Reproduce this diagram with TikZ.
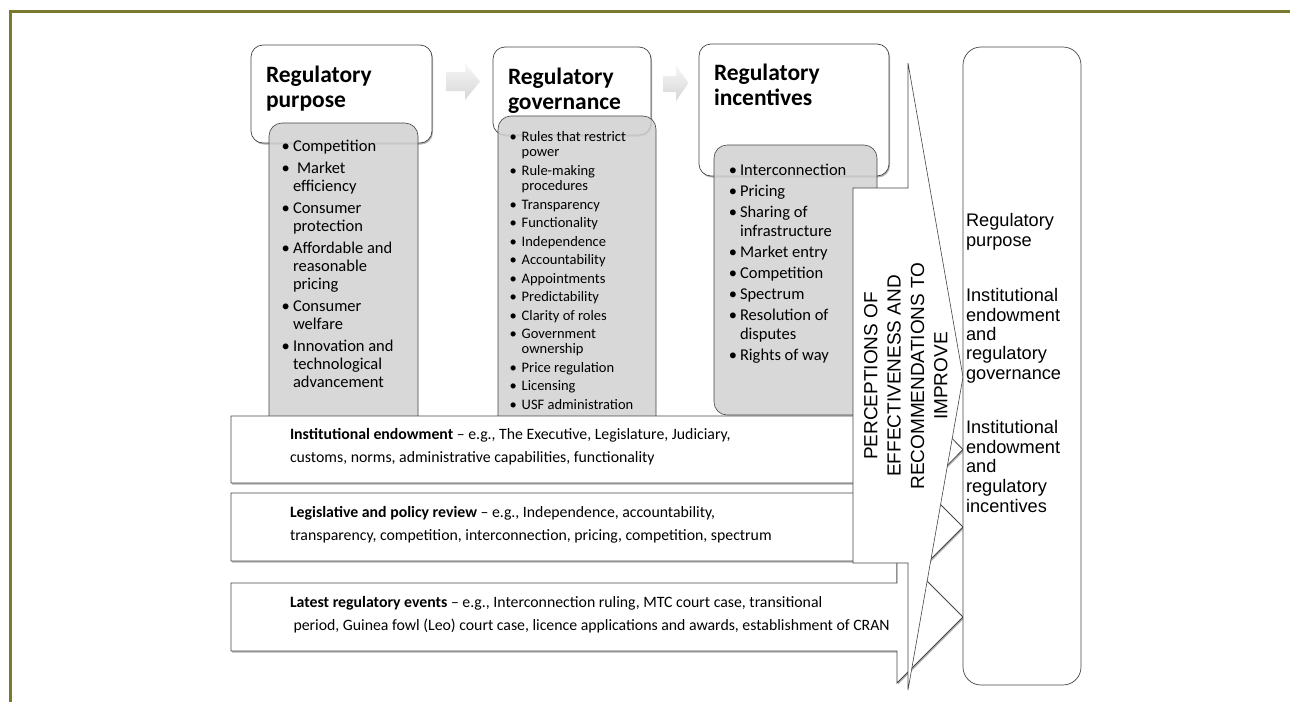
\documentclass[tikz,border=0pt]{standalone}
\usepackage{fontspec}
\setmainfont{Carlito}
\newfontfamily\arialfont{Liberation Sans}
\usetikzlibrary{shadows}

\definecolor{frameolive}{RGB}{122,122,46}
\definecolor{edgegray}{RGB}{68,68,68}
\definecolor{listfill}{RGB}{209,209,209}

\begin{document}
\begin{tikzpicture}[x=1pt, y=-1pt,
  every node/.style={inner sep=0pt, outer sep=0pt},
  softshadow/.style={drop shadow={shadow xshift=1pt, shadow yshift=-1.5pt, opacity=0.3, fill=black}},
  stagebox/.style={draw=edgegray, line width=0.7pt, fill=white, rounded corners=12pt, anchor=north west, softshadow},
  listbox/.style={draw=edgegray, line width=0.6pt, fill=listfill, fill opacity=0.85, rounded corners=13pt, anchor=north west},
  flowarrow/.style={draw=edgegray, line width=0.8pt, fill=white, line join=miter, softshadow},
  bigarrow/.style={draw=edgegray, line width=0.6pt, fill=white, line join=miter},
  steparrow/.style={draw=none, top color=gray!6, bottom color=gray!32},
  panelbox/.style={draw=edgegray, line width=0.7pt, fill=white, rounded corners=18pt, anchor=north west},
  stagetitle/.style={font=\fontsize{23.5}{25}\selectfont\bfseries, anchor=base west},
  itemA/.style={font=\fontsize{16.5}{18}\selectfont, anchor=base west},
  itemB/.style={font=\fontsize{14.5}{15}\selectfont, anchor=base west},
  dotA/.style={font=\fontsize{16.5}{18}\selectfont, anchor=base},
  dotB/.style={font=\fontsize{14.5}{15}\selectfont, anchor=base},
  flowtext/.style={font=\fontsize{15.8}{18}\selectfont, anchor=base west},
  paneltext/.style={font=\arialfont\fontsize{18.2}{19.5}\selectfont, anchor=base west},
  bigtext/.style={font=\arialfont\fontsize{19}{23.3}\selectfont, align=center, rotate=90},
]
\useasboundingbox (0,0) rectangle (1290,702);

% frame
\draw[frameolive, line width=3pt, line join=miter] (10,702) -- (10,11.3) -- (1290,11.3);

% stage boxes
\node[stagebox, minimum width=181pt, minimum height=98pt] (purposebox) at (251,45) {};
\node[stagebox, minimum width=158pt, minimum height=88pt] (governbox) at (493,47) {};
\node[stagebox, minimum width=190pt, minimum height=132pt] (incentbox) at (699,44) {};

% step arrows between stages
\path[steparrow] (446,72) -- (465,72) -- (465,63) -- (480,81.5) -- (465,100) -- (465,91) -- (446,91) -- cycle;
\path[steparrow] (663,76) -- (676,76) -- (676,65) -- (688.5,83) -- (676,101) -- (676,92) -- (663,92) -- cycle;

% stage titles
\node[stagetitle] (purposeA) at (266,82) {Regulatory};
\node[stagetitle] (purposeB) at (266,107) {purpose};
\node[stagetitle] (governA) at (508,84) {Regulatory};
\node[stagetitle] (governB) at (508,109) {governance};
\node[stagetitle] (incentA) at (714,80) {Regulatory};
\node[stagetitle] (incentB) at (714,105) {incentives};

% grey lists
\node[listbox, minimum width=149pt, minimum height=307pt] (purposelist) at (269,123) {};
\node[listbox, minimum width=158pt, minimum height=314pt] (governlist) at (498,116) {};
\node[listbox, minimum width=163pt, minimum height=270pt] (incentlist) at (714,145) {};

% list of purposes
\foreach \xx/\yy/\tx [count=\k] in {293/151.5/Competition, 297/173.3/Market, 293/191.5/efficiency,
  293/213.3/Consumer, 293/231.5/protection, 293/253.3/Affordable and, 293/271.5/reasonable,
  293/289.7/pricing, 293/311.5/Consumer, 293/329.7/welfare, 293/351.5/Innovation and,
  293/369.7/technological, 293/387.9/advancement}
  \node[itemA, name=pu\k] at (\xx,\yy) {\tx};
\foreach \yy [count=\k] in {151.5,173.3,213.3,253.3,311.5,351.5}
  \node[dotA, name=pudot\k] at (285.7,\yy) {•};

% list of governance topics
\foreach \yy/\tx [count=\k] in {141.7/Rules that restrict, 156.9/power, 175.4/Rule-making,
  190.6/procedures, 209.1/Transparency, 227.6/Functionality, 246.1/Independence,
  264.6/Accountability, 283.1/Appointments, 301.6/Predictability, 320.1/Clarity of roles,
  338.6/Government, 353.8/ownership, 372.3/Price regulation, 390.8/Licensing,
  409.3/USF administration}
  \node[itemB, name=go\k] at (521.7,\yy) {\tx};
\foreach \yy [count=\k] in {141.7,175.4,209.1,227.6,246.1,264.6,283.1,301.6,320.1,338.6,372.3,390.8,409.3}
  \node[dotB, name=godot\k] at (513.3,\yy) {•};

% list of incentives
\foreach \yy/\tx [count=\k] in {175.7/Interconnection, 196.5/Pricing, 217.3/Sharing of,
  236.8/infrastructure, 257.6/Market entry, 278.4/Competition, 299.2/Spectrum,
  320/Resolution of, 339.5/disputes, 360.3/Rights of way}
  \node[itemA, name=in\k] at (740,\yy) {\tx};
\foreach \yy [count=\k] in {175.7,196.5,217.3,257.6,278.4,299.2,320,360.3}
  \node[dotA, name=indot\k] at (733,\yy) {•};

% horizontal flow arrows
\draw[flowarrow] (231,416) -- (897,416) -- (897,383) -- (963,449.5) -- (897,516) -- (897,483) -- (231,483) -- cycle;
\draw[flowarrow] (231,493) -- (897,493) -- (897,461) -- (963,527) -- (897,593) -- (897,561) -- (231,561) -- cycle;
\draw[flowarrow] (231,583) -- (897,583) -- (897,551) -- (963,617) -- (897,683) -- (897,651) -- (231,651) -- cycle;

\node[flowtext] (endowA) at (290,439.5) {\textbf{Institutional endowment} – e.g., The Executive, Legislature, Judiciary,};
\node[flowtext] (endowB) at (290,462.5) {customs, norms, administrative capabilities, functionality};
\node[flowtext] (reviewA) at (290,517) {\textbf{Legislative and policy review} – e.g., Independence, accountability,};
\node[flowtext] (reviewB) at (290,540) {transparency, competition, interconnection, pricing, competition, spectrum};
\node[flowtext] (eventsA) at (290,607.5) {\textbf{Latest regulatory events} – e.g., Interconnection ruling, MTC court case, transitional};
\node[flowtext] (eventsB) at (293.5,630.5) {period, Guinea fowl (Leo) court case, licence applications and awards, establishment of CRAN};

% perceptions arrow
\draw[bigarrow] (853,188) -- (908,188) -- (908,63) -- (963,377) -- (908,690) -- (908,563) -- (853,563) -- cycle;
\node[bigtext] (perceptions) at (905.8,376) {PERCEPTIONS OF\\EFFECTIVENESS AND\\RECOMMENDATIONS TO\\IMPROVE};

% outcome panel
\node[panelbox, minimum width=118pt, minimum height=638pt] (panel) at (963,47) {};
\node[paneltext] (outA1) at (966,226.7) {Regulatory};
\node[paneltext] (outA2) at (966,246.7) {purpose};
\foreach \yy/\tx [count=\k] in {301.7/Institutional, 321/endowment, 340.4/and, 359.8/regulatory, 379.2/governance}
  \node[paneltext, name=outB\k] at (966,\yy) {\tx};
\foreach \yy/\tx [count=\k] in {433.3/Institutional, 453.1/endowment, 472.9/and, 492.7/regulatory, 512.5/incentives}
  \node[paneltext, name=outC\k] at (966,\yy) {\tx};
\end{tikzpicture}
\end{document}
